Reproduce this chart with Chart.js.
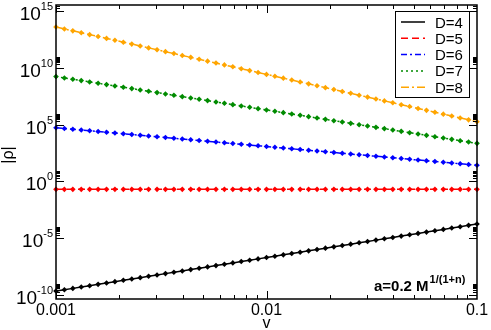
<!DOCTYPE html>
<html lang="en">
<head>
    <meta charset="UTF-8">
    <script src="https://cdn.jsdelivr.net/npm/chart.js@4.4.1/dist/chart.umd.min.js"></script>
    <title>|rho| vs v</title>
    <style>
        * { margin: 0; padding: 0; box-sizing: border-box; }
        body { background: #ffffff; width: 491px; height: 330px; overflow: hidden; }
        .chart-container { position: relative; width: 491px; height: 330px; }
    </style>
</head>
<body>
    <div class="chart-container">
        <canvas id="rhoChart"></canvas>
    </div>

    <script>
        // x values (v), log-spaced from 0.001 to 0.1
        const v = [0.001, 0.001096, 0.001202, 0.001318, 0.001445, 0.001585, 0.001738, 0.001905, 0.002089, 0.002291,
                   0.002512, 0.002754, 0.00302, 0.003311, 0.003631, 0.003981, 0.004365, 0.004786, 0.005248, 0.005754,
                   0.00631, 0.006918, 0.007586, 0.008318, 0.00912, 0.01, 0.01096, 0.01202, 0.01318, 0.01445,
                   0.01585, 0.01738, 0.01905, 0.02089, 0.02291, 0.02512, 0.02754, 0.0302, 0.03311, 0.03631,
                   0.03981, 0.04365, 0.04786, 0.05248, 0.05754, 0.0631, 0.06918, 0.07586, 0.08318, 0.0912, 0.1];

        const rhoD4 = [2.24e-10, 2.94e-10, 3.85e-10, 5.06e-10, 6.64e-10, 8.71e-10, 1.14e-9, 1.50e-9, 1.97e-9, 2.58e-9,
                       3.39e-9, 4.45e-9, 5.83e-9, 7.66e-9, 1.00e-8, 1.32e-8, 1.73e-8, 2.27e-8, 2.98e-8, 3.91e-8,
                       5.13e-8, 6.73e-8, 8.83e-8, 1.16e-7, 1.52e-7, 2.00e-7, 2.62e-7, 3.44e-7, 4.51e-7, 5.92e-7,
                       7.76e-7, 1.02e-6, 1.34e-6, 1.75e-6, 2.30e-6, 3.02e-6, 3.96e-6, 5.20e-6, 6.82e-6, 8.95e-6,
                       1.17e-5, 1.54e-5, 2.02e-5, 2.65e-5, 3.48e-5, 4.57e-5, 6.00e-5, 7.87e-5, 1.03e-4, 1.36e-4, 1.78e-4];

        const rhoD5 = [0.2, 0.2, 0.2, 0.2, 0.2, 0.2, 0.2, 0.2, 0.2, 0.2, 0.2, 0.2, 0.2, 0.2, 0.2, 0.2, 0.2,
                       0.2, 0.2, 0.2, 0.2, 0.2, 0.2, 0.2, 0.2, 0.2, 0.2, 0.2, 0.2, 0.2, 0.2, 0.2, 0.2, 0.2,
                       0.2, 0.2, 0.2, 0.2, 0.2, 0.2, 0.2, 0.2, 0.2, 0.2, 0.2, 0.2, 0.2, 0.2, 0.2, 0.2, 0.2];

        const rhoD6 = [5.37e4, 4.61e4, 3.96e4, 3.40e4, 2.92e4, 2.51e4, 2.15e4, 1.85e4, 1.58e4, 1.36e4,
                       1.17e4, 1.00e4, 8.63e3, 7.40e3, 6.35e3, 5.46e3, 4.69e3, 4.03e3, 3.45e3, 2.96e3,
                       2.55e3, 2.19e3, 1.88e3, 1.61e3, 1.38e3, 1.19e3, 1.02e3, 877, 752, 646,
                       555, 476, 409, 351, 301, 259, 222, 191, 164, 141,
                       121, 104, 89.1, 76.4, 65.6, 56.4, 48.4, 41.6, 35.6, 30.6, 26.3];

        const rhoD7 = [1.70e9, 1.29e9, 9.88e8, 7.53e8, 5.75e8, 4.39e8, 3.34e8, 2.55e8, 1.95e8, 1.49e8,
                       1.13e8, 8.63e7, 6.59e7, 5.02e7, 3.84e7, 2.92e7, 2.23e7, 1.70e7, 1.30e7, 9.91e6,
                       7.55e6, 5.75e6, 4.40e6, 3.35e6, 2.56e6, 1.95e6, 1.49e6, 1.14e6, 8.65e5, 6.61e5,
                       5.04e5, 3.84e5, 2.93e5, 2.23e5, 1.71e5, 1.30e5, 9.91e4, 7.57e4, 5.77e4, 4.41e4,
                       3.36e4, 2.56e4, 1.95e4, 1.49e4, 1.14e4, 8.67e3, 6.61e3, 5.05e3, 3.85e3, 2.94e3, 2.24e3];

        const rhoD8 = [3.89e13, 2.65e13, 1.81e13, 1.23e13, 8.38e12, 5.71e12, 3.89e12, 2.65e12, 1.81e12, 1.23e12,
                       8.38e11, 5.71e11, 3.89e11, 2.65e11, 1.81e11, 1.23e11, 8.38e10, 5.71e10, 3.89e10, 2.65e10,
                       1.81e10, 1.23e10, 8.38e9, 5.71e9, 3.89e9, 2.65e9, 1.81e9, 1.23e9, 8.38e8, 5.71e8,
                       3.89e8, 2.65e8, 1.81e8, 1.23e8, 8.38e7, 5.71e7, 3.89e7, 2.65e7, 1.81e7, 1.23e7,
                       8.38e6, 5.71e6, 3.89e6, 2.65e6, 1.81e6, 1.23e6, 8.38e5, 5.71e5, 3.89e5, 2.65e5, 1.81e5];

        const seriesNames = ['D=4', 'D=5', 'D=6', 'D=7', 'D=8'];
        const xTickValues = [0.001, 0.01, 0.1];
        const xTickLabels = ['0.001', '0.01', '0.1'];
        const yTickExponents = [-10, -5, 0, 5, 10, 15];

        const FONT = "'Liberation Sans', Arial, Helvetica, sans-serif";

        function makeSet(label, values, color, dash) {
            return {
                label: label,
                data: v.map((x, i) => ({ x: x, y: values[i] })),
                borderColor: color,
                backgroundColor: color,
                borderWidth: 1.5,
                borderDash: dash,
                pointStyle: 'rectRot',
                pointRadius: 2.8,
                pointBorderWidth: 0,
                showLine: true,
                clip: false
            };
        }

        // frame, ticks, tick labels, legend and note (drawn on the chart scales)
        const decorations = {
            id: 'decorations',
            afterDraw(chart) {
                const ctx = chart.ctx;
                const a = chart.chartArea;
                const xs = chart.scales.x;
                const ys = chart.scales.y;
                ctx.save();
                ctx.strokeStyle = '#000';
                ctx.fillStyle = '#000';
                ctx.lineWidth = 1.5;
                ctx.strokeRect(a.left, a.top, a.right - a.left, a.bottom - a.top);

                ctx.lineWidth = 1;
                // x ticks (major + minor), bottom and top
                [0.001, 0.01].forEach(d => {
                    for (let m = 1; m <= 9; m++) {
                        const px = Math.round(xs.getPixelForValue(m * d)) + 0.5;
                        const len = m === 1 ? 8 : 4;
                        ctx.beginPath();
                        ctx.moveTo(px, a.bottom); ctx.lineTo(px, a.bottom - len);
                        ctx.moveTo(px, a.top); ctx.lineTo(px, a.top + len);
                        ctx.stroke();
                    }
                });
                // y ticks, left and right
                yTickExponents.forEach(e => {
                    for (let m = 1; m <= 9; m++) {
                        const val = m * Math.pow(10, e);
                        const py = Math.round(ys.getPixelForValue(val)) + 0.5;
                        if (py < a.top || py > a.bottom) continue;
                        const len = m === 1 ? 8 : 4;
                        ctx.beginPath();
                        ctx.moveTo(a.left, py); ctx.lineTo(a.left + len, py);
                        ctx.moveTo(a.right, py); ctx.lineTo(a.right - len, py);
                        ctx.stroke();
                    }
                });

                // x tick labels
                ctx.font = '16px ' + FONT;
                ctx.textAlign = 'center';
                ctx.textBaseline = 'alphabetic';
                xTickValues.forEach((t, i) => {
                    ctx.fillText(xTickLabels[i], xs.getPixelForValue(t), a.bottom + 16);
                });

                // y tick labels: 10 with exponent
                yTickExponents.forEach(e => {
                    const py = ys.getPixelForValue(Math.pow(10, e));
                    const exp = String(e);
                    ctx.font = '11px ' + FONT;
                    const ew = ctx.measureText(exp).width;
                    const right = a.left - 3;
                    ctx.textAlign = 'left';
                    ctx.fillText(exp, right - ew, py - 1);
                    ctx.font = '19px ' + FONT;
                    ctx.textAlign = 'right';
                    ctx.fillText('10', right - ew, py + 9);
                });

                // axis titles
                ctx.font = '16px ' + FONT;
                ctx.textAlign = 'center';
                ctx.fillText('v', (a.left + a.right) / 2, 328);
                ctx.save();
                ctx.translate(13, (a.top + a.bottom) / 2 + 3);
                ctx.rotate(-Math.PI / 2);
                ctx.fillText('|\u03C1|', 0, 0);
                ctx.restore();

                // legend
                const lx = 395, ly = 11, lw = 74, lh = 86;
                ctx.fillStyle = '#fff';
                ctx.fillRect(lx, ly, lw, lh);
                ctx.strokeStyle = '#000';
                ctx.lineWidth = 1;
                ctx.strokeRect(lx + 0.5, ly + 0.5, lw, lh);
                ctx.font = '15px ' + FONT;
                ctx.textAlign = 'left';
                chart.data.datasets.forEach((ds, i) => {
                    const cy = 22 + i * 16.3;
                    ctx.strokeStyle = ds.borderColor;
                    ctx.lineWidth = 1.5;
                    ctx.setLineDash(ds.borderDash || []);
                    ctx.beginPath();
                    ctx.moveTo(401, cy); ctx.lineTo(425, cy);
                    ctx.stroke();
                    ctx.setLineDash([]);
                    ctx.fillStyle = '#000';
                    ctx.fillText(seriesNames[i], 435, cy + 5.5);
                });

                // note
                ctx.fillStyle = '#000';
                ctx.font = 'bold 15px ' + FONT;
                ctx.textAlign = 'left';
                ctx.fillText('a=0.2 M', 374, 291);
                const nw = ctx.measureText('a=0.2 M').width;
                ctx.font = 'bold 11px ' + FONT;
                ctx.fillText('1/(1+n)', 374 + nw + 1, 283);
                ctx.restore();
            }
        };

        new Chart(document.getElementById('rhoChart'), {
            type: 'scatter',
            data: {
                datasets: [
                    makeSet(seriesNames[0], rhoD4, '#000000', []),
                    makeSet(seriesNames[1], rhoD5, '#ff0000', [7, 4]),
                    makeSet(seriesNames[2], rhoD6, '#0000ff', [6, 3, 2, 3]),
                    makeSet(seriesNames[3], rhoD7, '#008b00', [2, 3]),
                    makeSet(seriesNames[4], rhoD8, '#ffa500', [8, 3, 2, 3])
                ]
            },
            options: {
                responsive: true,
                maintainAspectRatio: false,
                animation: false,
                layout: { padding: { left: 56, right: 14, top: 5, bottom: 31 } },
                plugins: {
                    legend: { display: false },
                    tooltip: { enabled: false }
                },
                scales: {
                    x: { type: 'logarithmic', min: 0.001, max: 0.1, display: false },
                    y: { type: 'logarithmic', min: 4.47e-11, max: 3.4e15, display: false }
                }
            },
            plugins: [decorations]
        });
    </script>
</body>
</html>
